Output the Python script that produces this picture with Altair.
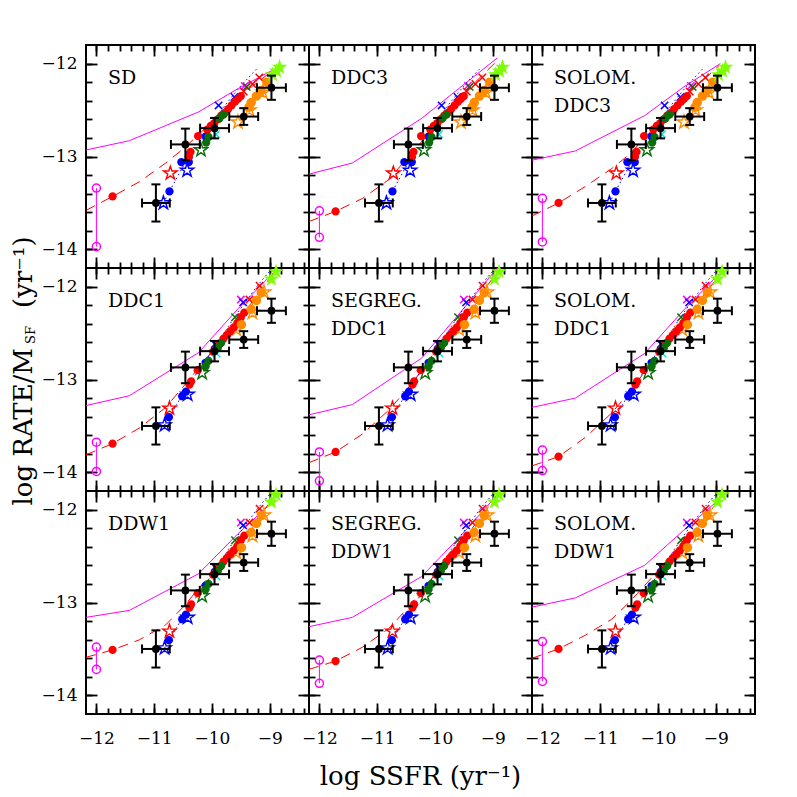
import altair as alt
import pandas as pd

# ---------------- data ----------------
PANEL_TEXT = [["SD"], ["DDC3"], ["SOLOM.", "DDC3"],
              ["DDC1"], ["SEGREG.", "DDC1"], ["SOLOM.", "DDC1"],
              ["DDW1"], ["SEGREG.", "DDW1"], ["SOLOM.", "DDW1"]]
PANEL_CLOUD = ["A", "A", "A", "B", "B", "B", "B", "B", "B"]

MAGENTA_LINE_X = [-12.18, -11.43, -10.23, -9.55, -8.92]
MAGENTA_LINE_Y = [
    [-12.93, -12.83, -12.52, -12.27, -12.06],
    [-13.19, -13.07, -12.59, -12.25, -11.94],
    [-13.04, -12.94, -12.56, -12.25, -12.00],
    [-13.28, -13.175, -12.71, -12.24, -11.84],
    [-13.38, -13.27, -12.77, -12.27, -11.80],
    [-13.30, -13.20, -12.72, -12.25, -11.85],
    [-13.16, -13.085, -12.69, -12.26, -11.90],
    [-13.26, -13.16, -12.72, -12.28, -11.84],
    [-13.05, -12.95, -12.60, -12.22, -11.88],
]
MAGENTA_CIRCLE_X = -12.0
MAGENTA_CIRCLE_Y = [
    [-13.34, -13.97], [-13.585, -13.87], [-13.45, -13.92],
    [-13.675, -13.99], [-13.78, -14.09], [-13.76, -13.98],
    [-13.48, -13.72], [-13.62, -13.87], [-13.42, -13.85],
]
RED_LINE_X = [-12.18, -11.72, -11.25, -10.8, -10.5, -10.0, -9.5, -8.94]
RED_LINE_Y = [
    [-13.58, -13.43, -13.27, -13.07, -12.92, -12.63, -12.34, -12.07],
    [-13.70, -13.59, -13.45, -13.25, -13.03, -12.68, -12.32, -11.98],
    [-13.64, -13.50, -13.32, -13.13, -12.98, -12.65, -12.34, -12.02],
    [-13.81, -13.69, -13.52, -13.30, -13.08, -12.70, -12.33, -11.86],
    [-13.895, -13.78, -13.585, -13.33, -13.12, -12.72, -12.33, -11.86],
    [-13.93, -13.83, -13.62, -13.36, -13.14, -12.73, -12.33, -11.88],
    [-13.59, -13.51, -13.40, -13.24, -13.05, -12.68, -12.32, -11.88],
    [-13.72, -13.63, -13.48, -13.28, -13.08, -12.70, -12.32, -11.86],
    [-13.60, -13.50, -13.35, -13.18, -13.00, -12.66, -12.32, -11.90],
]

OBS_X = [-10.97, -10.46, -9.955, -9.45, -8.97]
OBS_Y = [-13.50, -12.87, -12.695, -12.57, -12.26]
OBS_XERR = [0.24, 0.25, 0.25, 0.25, 0.25]
OBS_YERR = [0.20, 0.17, 0.11, 0.09, 0.13]

# model clouds (A: top row, B: other rows)
A_RED_DOTS = [(-10.40, -13.00), (-10.37, -12.95), (-10.24, -12.78), (-10.08, -12.71), (-10.02, -12.67),
              (-9.96, -12.64), (-9.90, -12.60), (-9.84, -12.56), (-9.78, -12.53), (-9.72, -12.49),
              (-9.66, -12.45), (-9.60, -12.41), (-9.55, -12.38), (-9.50, -12.35)]
A_RED_STARS = [(-10.72, -13.18)]
A_RED_CROSSES = [(-9.18, -12.15), (-9.45, -12.30), (-9.30, -12.22)]
A_BLUE_DOTS = [(-10.735, -13.376), (-10.53, -13.06), (-10.40, -13.06), (-10.11, -12.785)]
A_BLUE_STARS = [(-10.84, -13.50), (-10.43, -13.15)]
A_BLUE_CROSSES = [(-9.885, -12.45), (-9.61, -12.36), (-10.40, -12.98)]
A_BLUE_DOTTED = [(-10.84, -13.50), (-10.74, -13.38), (-10.45, -13.05), (-10.1, -12.74),
                 (-9.8, -12.47), (-9.5, -12.24), (-9.2, -12.04)]
A_GREEN_DOTS = [(-10.10, -12.85), (-10.06, -12.79), (-9.87, -12.59), (-9.80, -12.55)]
A_GREEN_STARS = [(-10.19, -12.93)]
A_GREEN_CROSSES = [(-9.40, -12.25)]
A_ORANGE_DOTS = [(-9.05, -12.20), (-9.145, -12.29), (-9.23, -12.35), (-9.32, -12.42), (-9.36, -12.47)]
A_ORANGE_STARS = [(-9.35, -12.50), (-9.55, -12.63), (-9.12, -12.31)]
A_LIME_STARS = [(-8.83, -12.04), (-8.88, -12.08), (-8.95, -12.12)]
A_CYAN_CROSSES = [(-9.93, -12.76), (-9.99, -12.70)]
A_MAGENTA_CROSSES = [(-9.43, -12.24)]

B_RED_DOTS = [(-10.39, -13.056), (-10.36, -13.02), (-10.245, -12.90), (-9.98, -12.70), (-9.92, -12.66),
              (-9.86, -12.61), (-9.80, -12.56), (-9.74, -12.52), (-9.68, -12.48), (-9.62, -12.44),
              (-9.56, -12.39), (-9.50, -12.33), (-9.44, -12.28)]
B_RED_STARS = [(-10.735, -13.31)]
B_RED_CROSSES = [(-9.175, -11.99), (-9.35, -12.14)]
B_BLUE_DOTS = [(-10.745, -13.405), (-10.515, -13.18), (-10.45, -13.13), (-10.11, -12.82)]
B_BLUE_STARS = [(-10.82, -13.49), (-10.42, -13.16)]
B_BLUE_CROSSES = [(-9.46, -12.17), (-9.95, -12.62)]
B_BLUE_DOTTED = [(-10.82, -13.49), (-10.45, -13.10), (-10.0, -12.70), (-9.6, -12.32),
                 (-9.2, -11.98), (-8.98, -11.82)]
B_GREEN_DOTS = [(-10.11, -12.857), (-10.06, -12.80), (-9.898, -12.66), (-9.84, -12.605)]
B_GREEN_STARS = [(-10.17, -12.93)]
B_GREEN_CROSSES = [(-9.60, -12.33)]
B_ORANGE_DOTS = [(-9.145, -12.065), (-9.23, -12.15), (-9.32, -12.245), (-9.49, -12.41)]
B_ORANGE_STARS = [(-9.58, -12.46), (-9.30, -12.28), (-9.10, -12.06)]
B_LIME_STARS = [(-8.89, -11.84), (-8.97, -11.92)]
B_CYAN_CROSSES = [(-9.92, -12.72)]
B_MAGENTA_CROSSES = [(-9.50, -12.14)]

X_MAJOR = [-12, -11, -10, -9]
X_MINOR = [-12.0, -11.8, -11.6, -11.4, -11.2, -11.0, -10.8, -10.6, -10.4, -10.2, -10.0,
           -9.8, -9.6, -9.4, -9.2, -9.0, -8.8, -8.6, -8.4]
Y_MAJOR = [-14, -13, -12]
Y_MINOR = [-14.0, -13.8, -13.6, -13.4, -13.2, -13.0, -12.8, -12.6, -12.4, -12.2, -12.0]

# ---------------- style ----------------
RED, BLUE, GREEN, ORANGE = "#ff0000", "#0000ff", "#0a6e0a", "#ff8c00"
LIME, CYAN, MAGENTA = "#7cff00", "#00e5e5", "#ff00ff"
SERIF = "DejaVu Serif"
W, H = 223, 223
XS = alt.Scale(domain=[-12.18, -8.32], nice=False, zero=False)
YS = alt.Scale(domain=[-14.2, -11.8], nice=False, zero=False)
STAR = ("M0,-1L0.225,-0.309L0.951,-0.309L0.363,0.118L0.588,0.809L0,0.382"
        "L-0.588,0.809L-0.363,0.118L-0.951,-0.309L-0.225,-0.309Z")
XMARK = "M-1,-1L1,1M-1,1L1,-1"

CLOUDS = {
    "A": dict(rd=A_RED_DOTS, rs=A_RED_STARS, rx=A_RED_CROSSES, bd=A_BLUE_DOTS, bs=A_BLUE_STARS,
              bx=A_BLUE_CROSSES, bl=A_BLUE_DOTTED, gd=A_GREEN_DOTS, gs=A_GREEN_STARS,
              gx=A_GREEN_CROSSES, od=A_ORANGE_DOTS, os=A_ORANGE_STARS, ls=A_LIME_STARS,
              cx=A_CYAN_CROSSES, mx=A_MAGENTA_CROSSES),
    "B": dict(rd=B_RED_DOTS, rs=B_RED_STARS, rx=B_RED_CROSSES, bd=B_BLUE_DOTS, bs=B_BLUE_STARS,
              bx=B_BLUE_CROSSES, bl=B_BLUE_DOTTED, gd=B_GREEN_DOTS, gs=B_GREEN_STARS,
              gx=B_GREEN_CROSSES, od=B_ORANGE_DOTS, os=B_ORANGE_STARS, ls=B_LIME_STARS,
              cx=B_CYAN_CROSSES, mx=B_MAGENTA_CROSSES),
}


def frame(groups):
    rows = []
    for pts, col in groups:
        for (x, y) in pts:
            rows.append({"x": x, "y": y, "c": col})
    return pd.DataFrame(rows)


def xy(ch):
    return ch.encode(x=alt.X("x:Q", scale=XS, axis=None), y=alt.Y("y:Q", scale=YS, axis=None))


DUMMY = pd.DataFrame({"x": OBS_X, "y": OBS_Y})


def tick_axis(orient, values, size):
    return alt.Axis(orient=orient, values=values, tickSize=size, offset=-size, labels=False,
                    domain=False, grid=False, title=None, ticks=True, tickColor="black",
                    tickWidth=1.8)


def label_axis(orient, values, pad):
    return alt.Axis(orient=orient, values=values, ticks=False, domain=False, grid=False,
                    title=None, labelFont=SERIF, labelFontSize=17, labelColor="black",
                    labelPadding=pad, format="d", labelFlush=False, labelOverlap=False)


def axis_layer(xa, ya):
    return alt.Chart(DUMMY).mark_point(opacity=0).encode(
        x=alt.X("x:Q", scale=XS, axis=xa), y=alt.Y("y:Q", scale=YS, axis=ya))


def text_layer(txt, px, py, size, align="left", angle=0):
    return alt.Chart(pd.DataFrame({"t": [txt]})).mark_text(
        align=align, baseline="alphabetic", font=SERIF, fontSize=size, color="black",
        angle=angle).encode(x=alt.value(px), y=alt.value(py), text="t:N")


def panel(i):
    r, c = divmod(i, 3)
    cl = CLOUDS[PANEL_CLOUD[i]]
    layers = [
        axis_layer(tick_axis("bottom", X_MAJOR, 11), tick_axis("left", Y_MAJOR, 11)),
        axis_layer(tick_axis("bottom", X_MINOR, 6), tick_axis("left", Y_MINOR, 6)),
        axis_layer(tick_axis("top", X_MAJOR, 11), tick_axis("right", Y_MAJOR, 11)),
        axis_layer(tick_axis("top", X_MINOR, 6), tick_axis("right", Y_MINOR, 6)),
    ]
    if r == 2 or c == 0:
        layers.append(axis_layer(label_axis("bottom", X_MAJOR, 16) if r == 2 else None,
                                 label_axis("left", Y_MAJOR, 9) if c == 0 else None))

    mag = pd.DataFrame({"x": MAGENTA_LINE_X, "y": MAGENTA_LINE_Y[i]})
    layers.append(xy(alt.Chart(mag).mark_line(color=MAGENTA, strokeWidth=1)))
    mc = pd.DataFrame({"x": [MAGENTA_CIRCLE_X] * 2, "y": MAGENTA_CIRCLE_Y[i]})
    layers.append(xy(alt.Chart(mc).mark_line(color=MAGENTA, strokeWidth=1)))
    layers.append(xy(alt.Chart(mc).mark_point(shape="circle", filled=False, color=MAGENTA,
                                               size=65, strokeWidth=1.5, opacity=1)))
    red = pd.DataFrame({"x": RED_LINE_X, "y": RED_LINE_Y[i]})
    layers.append(xy(alt.Chart(red).mark_line(color=RED, strokeWidth=1, strokeDash=[10, 7])))
    bl = pd.DataFrame(cl["bl"], columns=["x", "y"])
    layers.append(xy(alt.Chart(bl).mark_line(color=BLUE, strokeWidth=1, strokeDash=[1.5, 3])))

    crosses = frame([(cl["mx"], MAGENTA), (cl["cx"], CYAN), (cl["bx"], BLUE),
                     (cl["gx"], GREEN), (cl["rx"], RED)])
    layers.append(xy(alt.Chart(crosses).mark_point(shape=XMARK, filled=False, size=55,
                                                    strokeWidth=1.5, opacity=1))
                  .encode(color=alt.Color("c:N", scale=None)))
    stars = frame([(cl["bs"], BLUE), (cl["gs"], GREEN), (cl["os"], ORANGE), (cl["rs"], RED)])
    layers.append(xy(alt.Chart(stars).mark_point(shape=STAR, filled=False, size=200,
                                                  strokeWidth=1.4, opacity=1))
                  .encode(color=alt.Color("c:N", scale=None)))
    dots = frame([(cl["bd"], BLUE), (cl["rd"], RED), (cl["gd"], GREEN)])
    lowred = pd.DataFrame({"x": [RED_LINE_X[1]], "y": [RED_LINE_Y[i][1]], "c": [RED]})
    dots = pd.concat([dots, lowred], ignore_index=True)
    layers.append(xy(alt.Chart(dots).mark_circle(size=68, opacity=1))
                  .encode(color=alt.Color("c:N", scale=None)))
    od = frame([(cl["od"], ORANGE)])
    layers.append(xy(alt.Chart(od).mark_circle(size=90, opacity=1))
                  .encode(color=alt.Color("c:N", scale=None)))
    ls = frame([(cl["ls"], LIME)])
    layers.append(xy(alt.Chart(ls).mark_point(shape=STAR, filled=True, size=270, opacity=1))
                  .encode(color=alt.Color("c:N", scale=None)))

    obs = pd.DataFrame({"x": OBS_X, "y": OBS_Y, "xe": OBS_XERR, "ye": OBS_YERR})
    obs["xlo"] = obs["x"] - obs["xe"]
    obs["xhi"] = obs["x"] + obs["xe"]
    obs["ylo"] = obs["y"] - obs["ye"]
    obs["yhi"] = obs["y"] + obs["ye"]
    base = alt.Chart(obs)
    layers.append(base.mark_rule(color="black", strokeWidth=2).encode(
        x=alt.X("xlo:Q", scale=XS, axis=None), x2="xhi:Q", y=alt.Y("y:Q", scale=YS, axis=None)))
    layers.append(base.mark_rule(color="black", strokeWidth=2).encode(
        x=alt.X("x:Q", scale=XS, axis=None), y=alt.Y("ylo:Q", scale=YS, axis=None), y2="yhi:Q"))
    for f in ["xlo", "xhi"]:
        layers.append(base.mark_tick(orient="vertical", size=9, thickness=2, color="black",
                                     opacity=1).encode(
            x=alt.X(f + ":Q", scale=XS, axis=None), y=alt.Y("y:Q", scale=YS, axis=None)))
    for f in ["ylo", "yhi"]:
        layers.append(base.mark_tick(orient="horizontal", size=9, thickness=2, color="black",
                                     opacity=1).encode(
            x=alt.X("x:Q", scale=XS, axis=None), y=alt.Y(f + ":Q", scale=YS, axis=None)))
    layers.append(xy(base.mark_circle(size=60, color="black", opacity=1)))

    for k, line in enumerate(PANEL_TEXT[i]):
        layers.append(text_layer(line, 22, 39 + 28 * k, 19))

    if i == 3:
        layers.append(text_layer("log RATE/M", -54, 80, 26, align="right", angle=270))
        layers.append(text_layer("SF", -51, 76, 13, align="left", angle=270))
        layers.append(text_layer("(yr\u207b\u00b9)", -54, 40, 26, align="left", angle=270))
    if i == 7:
        layers.append(text_layer("log SSFR (yr\u207b\u00b9)", 111.5, 294, 26, align="center"))

    return alt.layer(*layers).resolve_axis(x="independent", y="independent").properties(
        width=W, height=H)


chart = alt.concat(*[panel(i) for i in range(9)], columns=3, spacing=0, bounds="flush").properties(
    padding={"left": 2, "top": 35, "right": 5, "bottom": 5}
).configure_view(stroke="black", strokeWidth=2)

chart.save("out.html", embed_options={"renderer": "svg", "actions": False})
